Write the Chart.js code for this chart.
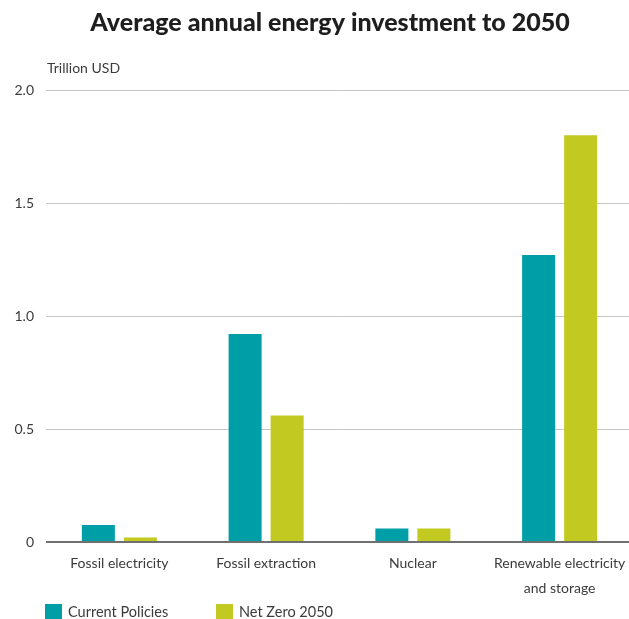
<!DOCTYPE html>
<html>
<head>
<meta charset="utf-8">
<script src="https://cdn.jsdelivr.net/npm/chart.js@4.4.0/dist/chart.umd.min.js"></script>
<style>
  html, body { margin: 0; padding: 0; background: #fff; overflow: hidden; }
  canvas { display: block; }
</style>
</head>
<body>
<canvas id="chart" width="633" height="619"></canvas>
<script>
// Average annual energy investment to 2050, trillion USD
const chartTitle = 'Average annual energy investment to 2050';
const unitLabel = 'Trillion USD';
const categories = [
  'Fossil electricity',
  'Fossil extraction',
  'Nuclear',
  ['Renewable electricity', 'and storage']
];
const currentPolicies = [0.075, 0.92, 0.06, 1.27];
const netZero2050 = [0.02, 0.56, 0.06, 1.80];
const seriesNames = ['Current Policies', 'Net Zero 2050'];
const yTickValues = [0, 0.5, 1.0, 1.5, 2.0];
const yTickLabels = ['0', '0.5', '1.0', '1.5', '2.0'];

const FONT = 'Lato, "Noto Sans", sans-serif';
const TEXT = '#3b3b3b';

// Title, unit caption and the legend row along the bottom
const annotations = {
  id: 'annotations',
  afterDraw(chart) {
    const ctx = chart.ctx;
    const area = chart.chartArea;
    ctx.save();
    ctx.fillStyle = '#1e1e1e';
    ctx.font = '900 25px ' + FONT;
    ctx.textAlign = 'center';
    ctx.textBaseline = 'middle';
    ctx.fillText(chartTitle, 330, 23);

    ctx.fillStyle = TEXT;
    ctx.font = '14px ' + FONT;
    ctx.textAlign = 'left';
    ctx.fillText(unitLabel, area.left + 1, 68);

    const legendX = [45, 216];
    ctx.font = '14.5px ' + FONT;
    chart.data.datasets.forEach((ds, i) => {
      ctx.fillStyle = ds.backgroundColor;
      ctx.fillRect(legendX[i], 604, 17, 17);
      ctx.fillStyle = TEXT;
      ctx.fillText(ds.label, legendX[i] + 23, 612);
    });
    ctx.restore();
  }
};

new Chart(document.getElementById('chart'), {
  type: 'bar',
  data: {
    labels: categories,
    datasets: [
      { label: seriesNames[0], data: currentPolicies, backgroundColor: '#009ea6' },
      { label: seriesNames[1], data: netZero2050, backgroundColor: '#c2c920' }
    ]
  },
  options: {
    responsive: false,
    animation: false,
    devicePixelRatio: 1,
    layout: { padding: { top: 90, left: 0, right: 0, bottom: 0 } },
    datasets: {
      bar: { categoryPercentage: 0.5726, barPercentage: 0.786 }
    },
    plugins: {
      legend: { display: false },
      title: { display: false },
      tooltip: { enabled: false }
    },
    scales: {
      x: {
        grid: { display: false },
        border: { display: false },
        ticks: {
          color: TEXT,
          padding: 1,
          maxRotation: 0,
          font: { family: FONT, size: 14, lineHeight: 1.78 }
        },
        afterFit(scale) { scale.height = 77; }
      },
      y: {
        min: 0,
        max: 2,
        border: { display: false },
        grid: {
          drawTicks: false,
          color: c => (c.tick && c.tick.value === 0 ? '#707070' : '#c6c6c6'),
          lineWidth: c => (c.tick && c.tick.value === 0 ? 2 : 1)
        },
        afterBuildTicks(scale) {
          scale.ticks = yTickValues.map(v => ({ value: v }));
        },
        ticks: {
          color: TEXT,
          padding: 12,
          font: { family: FONT, size: 14 },
          callback: (v) => yTickLabels[yTickValues.indexOf(v)] ?? ''
        },
        afterFit(scale) { scale.width = 46; }
      }
    }
  },
  plugins: [annotations]
});
</script>
</body>
</html>
